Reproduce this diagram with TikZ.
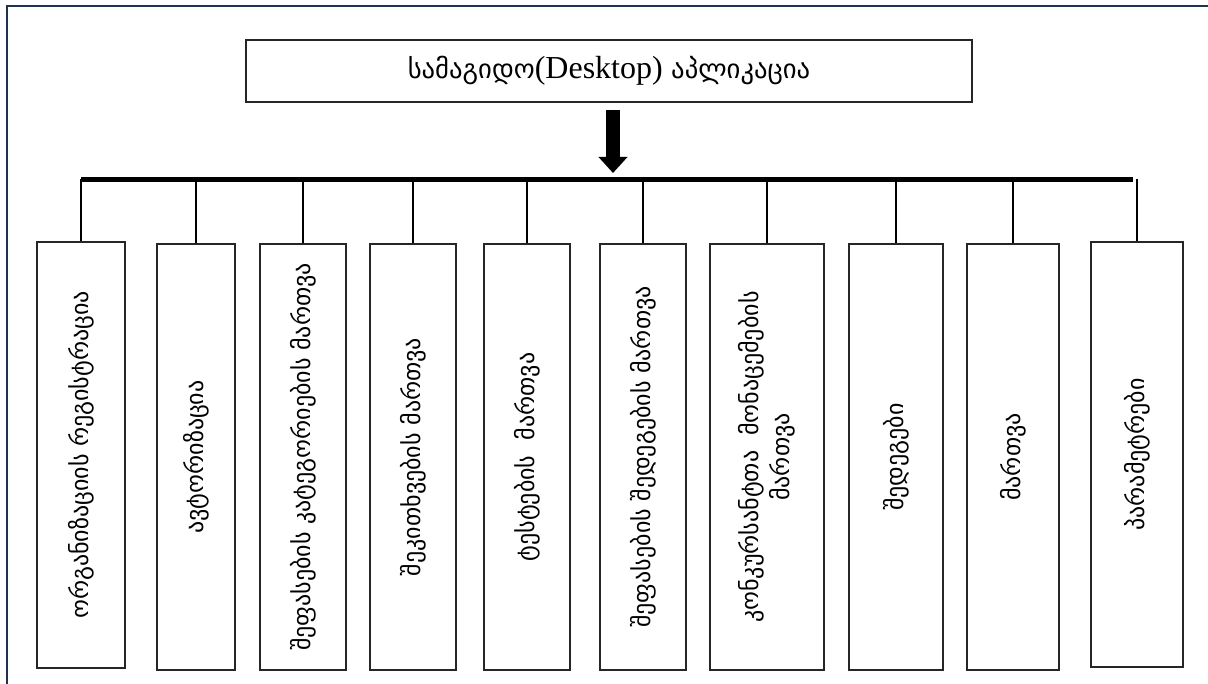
\documentclass[tikz,border=0pt]{standalone}
\usepackage{fontspec}
\setmainfont{Liberation Serif}
\newfontfamily\geo{DejaVu Sans}
\usetikzlibrary{arrows.meta}
\definecolor{framecol}{HTML}{1F3350}
\begin{document}
\begin{tikzpicture}[x=0.75pt,y=-0.75pt,
  box/.style={draw=black!85, line width=0.8pt, inner sep=0pt},
  lbl/.style={rotate=90, font=\geo\fontsize{18}{23}\selectfont, align=center, inner sep=0pt},
  conn/.style={line width=1.3pt},
]
\useasboundingbox (0,0) rectangle (1208,684);
\draw[color=framecol, line width=1.6pt] (7,684) -- (7,6) -- (1208,6);

% title
\node[box, minimum width=726*0.75pt, minimum height=62*0.75pt] (title) at (609,71) {};
\node[font=\geo\fontsize{20}{22}\selectfont, inner sep=0pt] (ttext) at (609,71) {სამაგიდო{\rmfamily\fontsize{24}{26}\selectfont(Desktop)} აპლიკაცია};

% arrow
\coordinate (atop) at (613,110);
\coordinate (abot) at (613,173);
\draw[line width=11pt, -{Triangle[length=12pt,width=21pt]}] (atop) -- (abot);

% bar
\coordinate (barL) at (81,179.5);
\coordinate (barR) at (1133,179.5);
\draw[line width=3.8pt] (barL) -- (barR);

\newcommand\gbox[6]{%
  \node[box, minimum width={(#3-#2)*0.75pt}, minimum height={(#5-#4)*0.75pt}] (#1) at ({(#2+#3)/2},{(#4+#5)/2}) {};
  \node[lbl] (#1t) at (#1.center) {#6};
  \draw[conn] (#1.north) -- (#1.north |- barL);
}
\gbox{b1}{37}{125}{242}{668}{ორგანიზაციის რეგისტრაცია}
\gbox{b2}{157}{235}{244}{670}{ავტორიზაცია}
\gbox{b3}{260}{346}{244}{670}{შეფასების კატეგორიების მართვა}
\gbox{b4}{370}{456}{244}{670}{შეკითხვების მართვა}
\gbox{b5}{484}{570}{244}{670}{ტესტების\ \ მართვა}
\gbox{b6}{600}{686}{244}{670}{შეფასების შედეგების მართვა}
\gbox{b7}{710}{824}{244}{670}{კონკურსანტთა\ \ მონაცემების\\მართვა}
\gbox{b8}{849}{943}{244}{670}{შედეგები}
\gbox{b9}{967}{1059}{244}{670}{მართვა}
\gbox{b10}{1091}{1183}{242}{667}{პარამეტრები}
\end{tikzpicture}
\end{document}
